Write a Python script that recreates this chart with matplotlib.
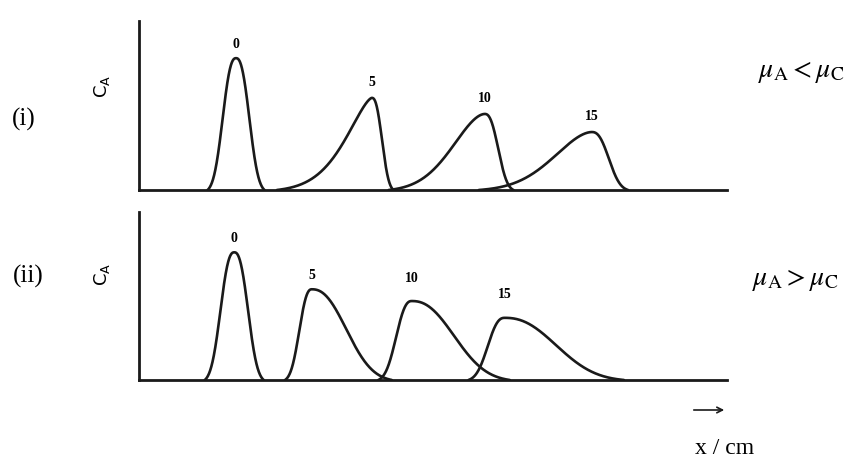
#!usr/bin/python3

# Libraries
import numpy as np
import matplotlib.pyplot as plt

plt.rcParams['font.family'] = ['Liberation Serif', 'DejaVu Serif']
plt.rcParams['mathtext.fontset'] = 'stix'

# Dataset: peak apex position (arbitrary x units), apex height,
# left / right spread and left / right sharpness of each peak
labels = ['0', '5', '10', '15']

top_centers = [16.5, 39.6, 58.8, 77.0]
top_heights = [0.78, 0.545, 0.45, 0.343]
top_left = [2.8, 6.5, 7.65, 9.0]
top_right = [2.8, 2.13, 2.82, 3.57]
top_left_p = [2.5, 1.5, 1.8, 1.8]
top_right_p = [2.5, 2.5, 2.5, 2.5]

bot_centers = [16.2, 29.4, 46.4, 62.2]
bot_heights = [0.76, 0.54, 0.47, 0.37]
bot_left = [2.9, 2.64, 3.3, 3.57]
bot_right = [2.9, 7.5, 9.2, 11.2]
bot_left_p = [2.5, 2.5, 2.5, 2.5]
bot_right_p = [2.5, 2.3, 2.3, 2.3]

W, H = 857, 461
FOOT = 0.02  # the curves meet the baseline at a finite point

# Asymmetric peak shape
def peak(x, c, h, wl, wr, pl, pr):
    d = x - c
    w = np.where(d < 0, wl, wr)
    p = np.where(d < 0, pl, pr)
    g = np.exp(-(np.abs(d) / w) ** p)
    return h * np.clip((g - FOOT) / (1 - FOOT), 0, None)

def fx(px):
    return px / W

def fy(py):
    return 1 - py / H

fig = plt.figure(figsize=(W / 100, H / 100), dpi=100)
ax1 = fig.add_axes([fx(139), fy(190), fx(727) - fx(139), fy(21) - fy(190)])
ax2 = fig.add_axes([fx(139), fy(380), fx(727) - fx(139), fy(212) - fy(380)])

x = np.linspace(0, 100, 4000)

def draw(ax, centers, heights, left, right, lp, rp, dys):
    for c, h, wl, wr, pl, pr, lab, dy in zip(centers, heights, left, right, lp, rp, labels, dys):
        y = peak(x, c, h, wl, wr, pl, pr)
        idx = np.nonzero(y > 0)[0]
        i0, i1 = max(idx[0] - 1, 0), min(idx[-1] + 2, len(x))
        ax.plot(x[i0:i1], y[i0:i1], color='#1a1a1a', lw=1.9, solid_capstyle='round')
        ax.annotate(lab, (c, h), xytext=(0, dy), textcoords='offset points',
                    ha='center', va='center', fontsize=10, fontweight='bold')
    ax.set_xlim(0, 100)
    ax.set_ylim(0, 1)
    for s in ['top', 'right']:
        ax.spines[s].set_visible(False)
    for s in ['left', 'bottom']:
        ax.spines[s].set_linewidth(2)
        ax.spines[s].set_color('#1a1a1a')
    ax.set_xticks([])
    ax.set_yticks([])
    ax.patch.set_alpha(0)

draw(ax1, top_centers, top_heights, top_left, top_right, top_left_p, top_right_p,
     [10, 11, 11, 11.5])
draw(ax2, bot_centers, bot_heights, bot_left, bot_right, bot_left_p, bot_right_p,
     [10, 10, 16.5, 16.5])

# Labels
fig.text(fx(24), fy(119), '(i)', ha='center', va='center', fontsize=18)
fig.text(fx(28), fy(276), '(ii)', ha='center', va='center', fontsize=18)
for py in [86, 274]:
    fig.text(fx(102), fy(py), r'$\mathrm{C_A}$', ha='center', va='center',
             fontsize=13, rotation=90, math_fontfamily='dejavusans')
fig.text(fx(801), fy(72), r'$\mu_{\rm A} < \mu_{\rm C}$', ha='center', va='center', fontsize=20)
fig.text(fx(795), fy(280), r'$\mu_{\rm A} > \mu_{\rm C}$', ha='center', va='center', fontsize=20)

# Direction arrow and axis unit
ax2.annotate('', xy=(fx(727), fy(410)), xytext=(fx(691), fy(410)),
             xycoords='figure fraction', textcoords='figure fraction',
             arrowprops=dict(arrowstyle='->', color='#1a1a1a', lw=1.2))
fig.text(fx(725), fy(448), 'x / cm', ha='center', va='center', fontsize=17)

plt.savefig('out.png', dpi=100)
